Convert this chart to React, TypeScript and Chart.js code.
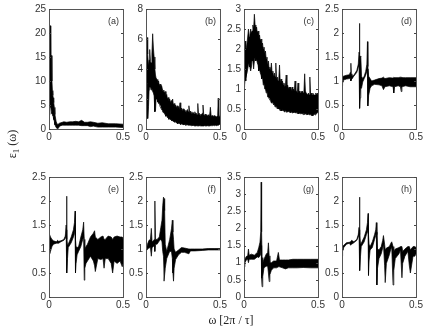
import React, { useEffect, useRef } from "react";
import { Chart, registerables } from "chart.js";

Chart.register(...registerables);

const omegaA = [0,.006,.01,.012,.017,.02,.023,.026,.029,.032,.036,.04,.048,.055,.062,.07,.08,.09,.1,.12,.14,.16,.18,.2,.22,.24,.26,.28,.3,.33,.36,.4,.45,.5];
const highA = [12,21.5,21.5,15.3,15.3,10,8,7,6.5,5.5,4.5,3,1.6,1,1,1.2,1.3,1.4,1.5,1.4,1.5,1.5,1.6,1.5,1.8,1.4,1.4,1.5,1.4,1.2,1.3,1.1,1.1,1.0];
const lowA = [3,5,5,4.5,3.5,3.2,3,2.8,2.5,2,1.6,.9,.3,.1,.1,.5,.7,.8,.8,.8,.8,.8,.8,.8,.7,.7,.7,.5,.6,.4,.4,.4,.4,.3];

const omegaB = [0,.003,.007,.01,.013,.017,.021,.025,.03,.035,
  .04,.045,.05,.055,.06,.064,.068,.075,.08,.085,
  .09,.095,.1,.105,.11,.115,.12,.125,.13,.135,
  .14,.145,.15,.155,.16,.165,.17,.175,.18,.185,
  .19,.195,.2,.205,.21,.215,.22,.225,.23,.235,
  .24,.245,.25,.255,.26,.265,.27,.275,.28,.285,
  .29,.295,.3,.305,.31,.315,.32,.325,.33,.335,
  .34,.345,.35,.355,.36,.365,.37,.375,.38,.385,
  .39,.395,.4,.405,.41,.415,.42,.425,.43,.435,
  .44,.445,.45,.455,.46,.465,.47,.475,.48,.484,
  .488,.492,.496,.5];
const highB = [4,5.5,6.1,5.2,5,4.2,4.6,5.3,4.5,4.4,
  5,6.35,5.4,4.8,4,3.6,3.4,3.3,3.1,3.2,
  2.9,3,2.8,2.9,2.7,2.5,2.6,2.4,2.5,2.2,
  2.3,2.0,2.1,1.9,2.0,1.75,1.9,1.7,2.0,1.6,
  1.7,1.5,1.6,1.4,1.55,1.35,1.5,1.3,1.75,1.3,
  1.4,1.2,1.35,1.2,1.3,1.15,1.25,1.1,1.3,1.15,
  1.55,1.1,1.2,1.05,1.15,1.0,1.1,1.0,1.15,1.0,
  1.05,.95,1.7,.95,1.05,.9,1.0,.95,1.05,1.6,
  .95,.9,1.0,.85,.95,.85,.95,.85,.9,1.45,
  .9,.85,.9,.8,.9,.8,.85,.8,.85,.8,
  2.05,.85,.8,.9];
const lowB = [3,3.2,3,2.5,.7,1.5,2.6,2.8,2.8,2.6,
  2.7,2.5,2.4,2.2,1.15,1.2,2,2,1.8,1.7,
  1.7,1.5,1.5,1.3,1.25,1.1,1.15,1.0,.95,.85,
  .9,.75,.8,.65,.7,.6,.65,.55,.55,.5,
  .5,.45,.5,.4,.42,.35,.4,.35,.38,.3,
  .35,.3,.33,.28,.3,.25,.3,.25,.28,.25,
  .27,.25,.25,.22,.25,.2,.25,.2,.22,.2,
  .22,.2,.22,.2,.22,.2,.22,.2,.2,.2,
  .2,.22,.2,.22,.2,.22,.2,.22,.2,.22,
  .22,.25,.22,.25,.22,.25,.25,.22,.25,.25,
  .25,.25,.3,.3];

const omegaC = [0,.004,.008,.012,.016,.02,.025,.03,.035,.04,
  .045,.05,.055,.06,.065,.07,.075,.08,.085,.09,
  .095,.1,.105,.11,.115,.12,.125,.13,.135,.14,
  .145,.15,.155,.16,.165,.17,.175,.18,.185,.19,
  .195,.2,.205,.21,.215,.22,.225,.23,.235,.24,
  .245,.25,.255,.26,.265,.27,.275,.28,.285,.29,
  .295,.3,.305,.31,.315,.32,.325,.33,.335,.34,
  .345,.35,.355,.36,.365,.37,.375,.38,.385,.39,
  .395,.4,.405,.41,.415,.42,.425,.43,.435,.44,
  .445,.45,.455,.46,.465,.47,.475,.48,.485,.49,
  .495,.5];
const highC = [1.5,2.0,2.2,2.05,2.0,2.0,2.3,2.5,2.3,2.35,
  2.5,2.4,2.45,2.6,2.5,2.87,2.6,2.5,2.55,2.4,
  2.45,2.3,2.35,2.2,2.25,2.1,2.15,2.0,2.05,1.9,
  1.95,1.75,1.8,1.6,1.7,1.5,1.55,1.45,1.65,1.4,
  1.45,1.3,1.4,1.3,1.65,1.25,1.3,1.2,1.25,1.6,
  1.15,1.25,1.15,1.2,1.1,1.15,1.05,1.1,1.35,1.05,
  1.1,1.0,1.05,1.0,1.05,.95,1.05,.95,1.0,.95,
  1.2,.95,.95,.9,1.15,.9,.95,.9,.95,.9,
  .95,.9,.95,1.38,.95,.9,.9,.85,.9,.85,
  1.3,.85,.9,.85,.9,.85,.85,.85,.9,.85,
  .9,.85];
const lowC = [1.05,1.1,1.25,1.2,1.35,1.35,1.5,1.6,1.65,1.55,
  1.45,1.55,1.75,1.7,1.5,1.7,1.8,1.7,1.75,1.65,
  1.6,1.45,1.5,1.4,1.35,1.25,1.3,1.1,1.15,1.0,
  1.0,.9,.95,.8,.8,.75,.75,.7,.65,.65,
  .68,.6,.62,.55,.58,.55,.5,.55,.5,.5,
  .45,.5,.45,.48,.45,.47,.42,.47,.42,.45,
  .42,.45,.42,.44,.4,.44,.4,.42,.4,.42,
  .4,.4,.42,.38,.42,.38,.4,.38,.4,.38,
  .38,.36,.4,.36,.38,.36,.38,.35,.38,.35,
  .35,.37,.33,.37,.33,.35,.38,.35,.38,.38,
  .4,.42];

const omegaD = [0,.004,.01,.03,.05,.056,.06,.063,.067,.08,.1,.11,.115,.118,.12,.123,.127,.132,.14,.15,.16,.168,.172,.175,.18,.19,.2,.22,.25,.27,.28,.29,.32,.345,.35,.355,.38,.395,.4,.405,.43,.46,.5];
const highD = [1.0,1.1,1.1,1.12,1.13,1.18,1.37,1.15,1.1,1.12,1.22,1.35,1.6,2.2,1.55,1.5,1.52,1.1,1.05,1.1,1.2,1.35,1.82,1.3,1.1,1.05,1.0,1.02,1.05,1.06,1.08,1.05,1.07,1.06,1.08,1.07,1.07,1.08,1.08,1.07,1.07,1.07,1.07];
const lowD = [.9,.95,1.02,1.04,1.05,1.05,1.0,1.03,1.03,1.1,1.18,1.28,1.35,1.3,.43,.65,.85,.85,.98,1.05,1.12,1.2,1.25,.48,.7,.85,.9,.93,.92,.9,.82,.88,.9,.88,.75,.88,.9,.88,.78,.88,.9,.88,.88];

const omegaE = [0,.004,.01,.02,.03,.05,.058,.065,.08,.1,.11,.116,.119,.121,.125,.13,.15,.165,.172,.176,.179,.183,.19,.2,.215,.228,.234,.238,.242,.25,.26,.28,.3,.308,.313,.33,.35,.365,.372,.38,.4,.42,.43,.44,.46,.48,.495,.5];
const highE = [1.1,1.3,1.25,1.2,1.17,1.15,1.18,1.16,1.17,1.2,1.27,1.5,2.1,1.2,1.08,1.1,1.25,1.4,1.55,1.79,1.2,1.05,1.03,1.05,1.25,1.4,1.56,1.2,1.0,1.05,1.1,1.25,1.33,1.38,1.25,1.2,1.25,1.27,1.2,1.2,1.27,1.25,1.2,1.25,1.27,1.25,1.25,1.22];
const lowE = [.85,.85,.95,1.05,1.1,1.12,1.12,1.12,1.15,1.18,1.22,1.3,1.4,.5,.8,1.03,1.13,1.25,1.32,1.4,.5,.7,.88,.95,1.05,1.2,1.25,.35,.6,.7,.75,.85,.75,.65,.53,.8,.78,.8,.6,.8,.8,.7,.5,.75,.7,.75,.63,.7];

const omegaF = [0,.01,.02,.03,.036,.041,.05,.056,.06,.064,.075,.09,.1,.108,.113,.118,.122,.126,.13,.14,.16,.172,.178,.182,.186,.19,.2,.22,.24,.26,.29,.3,.33,.38,.42,.46,.5];
const highF = [.98,1.1,1.18,1.2,1.43,1.15,1.17,1.2,2.0,1.2,1.2,1.25,1.45,1.6,1.9,2.08,2.05,1.8,1.1,.95,1.2,1.42,1.6,1.35,1.2,1.0,.93,.98,1.03,1.02,1.0,1.0,1.0,1.0,1.01,1.01,1.01];
const lowF = [.95,1.0,1.02,1.03,.85,1.03,1.05,1.08,.95,1.1,1.1,1.17,1.2,1.15,.95,.85,.33,.33,.6,.8,.95,.95,.8,.5,.33,.6,.78,.88,.93,.93,.9,.96,.96,.97,.98,.98,.98];

const omegaG = [0,.006,.015,.025,.03,.035,.05,.07,.09,.1,.108,.113,.116,.119,.122,.127,.135,.15,.16,.165,.17,.175,.185,.2,.22,.232,.24,.26,.28,.3,.33,.36,.4,.45,.5];
const highG = [1.0,1.1,1.18,1.2,1.4,1.22,1.25,1.22,1.3,1.45,1.6,1.9,3.35,1.9,1.15,1.0,1.1,1.25,1.3,1.58,1.2,1.0,1.0,1.05,1.05,1.3,1.08,1.08,1.08,1.08,1.1,1.1,1.1,1.1,1.1];
const lowG = [.88,1.0,1.08,1.1,1.0,1.1,1.1,1.1,1.17,1.15,1.2,1.25,1.5,.55,.3,.6,.85,.9,.9,.7,.45,.65,.78,.85,.85,.88,.88,.85,.82,.85,.85,.85,.86,.85,.85];

const omegaH = [0,.004,.012,.03,.05,.058,.065,.08,.1,.11,.115,.118,.121,.125,.13,.15,.165,.172,.176,.179,.183,.19,.205,.22,.228,.232,.236,.24,.25,.265,.275,.28,.288,.292,.3,.32,.33,.336,.345,.35,.36,.385,.395,.405,.41,.425,.445,.455,.462,.48,.492,.5];
const highH = [1.0,1.05,1.08,1.13,1.14,1.15,1.18,1.15,1.2,1.3,1.45,2.08,1.3,1.1,1.12,1.25,1.4,1.55,1.74,1.3,1.1,1.05,1.15,1.3,1.4,1.55,1.3,1.0,.98,1.05,1.18,1.28,1.1,.98,1.02,1.05,1.12,1.15,1.05,.95,1.0,1.03,1.05,1.05,.95,1.0,1.05,1.05,.98,1.05,1.05,1.03];
const lowH = [.85,.95,1.03,1.1,1.12,1.08,1.1,1.13,1.18,1.25,1.32,1.4,.55,.85,1.05,1.15,1.3,1.35,1.4,.45,.75,.98,1.03,1.2,1.28,1.35,.25,.6,.8,.9,1.02,1.1,.65,.3,.7,.88,1.0,1.03,.25,.55,.8,.9,.98,.4,.7,.85,.95,.65,.5,.85,.85,.9];

const panels = [
  { tag: "(a)", omega: omegaA, high: highA, low: lowA, yMax: 25, yStep: 5, left: 49, top: 7 },
  { tag: "(b)", omega: omegaB, high: highB, low: lowB, yMax: 8, yStep: 2, left: 146, top: 7 },
  { tag: "(c)", omega: omegaC, high: highC, low: lowC, yMax: 3, yStep: 0.5, left: 244, top: 7 },
  { tag: "(d)", omega: omegaD, high: highD, low: lowD, yMax: 2.5, yStep: 0.5, left: 342, top: 7 },
  { tag: "(e)", omega: omegaE, high: highE, low: lowE, yMax: 2.5, yStep: 0.5, left: 49, top: 175 },
  { tag: "(f)", omega: omegaF, high: highF, low: lowF, yMax: 2.5, yStep: 0.5, left: 146, top: 175 },
  { tag: "(g)", omega: omegaG, high: highG, low: lowG, yMax: 3.5, yStep: 0.5, left: 244, top: 175 },
  { tag: "(h)", omega: omegaH, high: highH, low: lowH, yMax: 2.5, yStep: 0.5, left: 342, top: 175 },
];

const PW = 74, PH = 122, PAD_L = 34, PAD_T = 7, PAD_R = 14, PAD_B = 17;
const INK = "#000";
const TEXT = "#333";
const FONT = "'Liberation Sans', sans-serif";

function Panel({ p }: { p: (typeof panels)[number] }) {
  const ref = useRef<HTMLCanvasElement>(null);
  useEffect(() => {
    const frame = {
      id: "frame",
      afterDatasetsDraw(c: any) {
        const { ctx, chartArea: a, scales } = c;
        ctx.save();
        ctx.strokeStyle = "#555";
        ctx.lineWidth = 1;
        ctx.strokeRect(a.left + 0.5, a.top + 0.5, a.right - a.left, a.bottom - a.top);
        ctx.strokeStyle = "#444";
        ctx.beginPath();
        for (const t of scales.y.ticks) {
          const y = Math.round(scales.y.getPixelForValue(t.value)) + 0.5;
          ctx.moveTo(a.left, y); ctx.lineTo(a.left + 2, y);
          ctx.moveTo(a.right, y); ctx.lineTo(a.right - 2, y);
        }
        ctx.stroke();
        ctx.fillStyle = TEXT;
        ctx.font = `9px ${FONT}`;
        ctx.textAlign = "right";
        ctx.textBaseline = "middle";
        ctx.fillText(p.tag, a.right - 4, a.top + 13);
        ctx.restore();
      },
    };
    const chart = new Chart(ref.current!, {
      type: "line",
      data: {
        datasets: [
          { data: p.omega.map((x, i) => ({ x, y: p.high[i] })), fill: "+1", backgroundColor: INK, borderColor: INK, borderWidth: 0.7, pointRadius: 0, tension: 0 },
          { data: p.omega.map((x, i) => ({ x, y: p.low[i] })), fill: false, borderColor: INK, borderWidth: 0.7, pointRadius: 0, tension: 0 },
        ],
      },
      options: {
        responsive: false,
        animation: false,
        events: [],
        layout: { padding: { top: PAD_T, right: PAD_R, left: 0, bottom: 0 } },
        plugins: { legend: { display: false }, tooltip: { enabled: false } },
        scales: {
          x: {
            type: "linear", min: 0, max: 0.5,
            grid: { display: false, drawTicks: false }, border: { display: false },
            afterFit: (s: any) => { s.height = PAD_B; },
            ticks: { stepSize: 0.5, autoSkip: false, maxRotation: 0, padding: 2, color: TEXT, font: { family: FONT, size: 10 }, callback: (v: any) => String(v) },
          },
          y: {
            type: "linear", min: 0, max: p.yMax,
            grid: { display: false, drawTicks: false }, border: { display: false },
            afterFit: (s: any) => { s.width = PAD_L; },
            ticks: { stepSize: p.yStep, autoSkip: false, padding: 3, color: TEXT, font: { family: FONT, size: 10 }, callback: (v: any) => String(v) },
          },
        },
      } as any,
      plugins: [frame],
    });
    return () => chart.destroy();
  }, [p]);
  return (
    <canvas
      ref={ref}
      width={PAD_L + PW + PAD_R}
      height={PAD_T + PH + PAD_B}
      style={{ position: "absolute", left: p.left - PAD_L, top: p.top - PAD_T, width: PAD_L + PW + PAD_R, height: PAD_T + PH + PAD_B }}
    />
  );
}

export default function App() {
  return (
    <div style={{ position: "absolute", left: 0, top: 0, width: 424, height: 327, background: "#fff", overflow: "hidden" }}>
      {panels.map((p) => <Panel key={p.tag} p={p} />)}
      <div style={{ position: "absolute", left: 186, top: 313, width: 90, textAlign: "center", fontFamily: "'Liberation Serif', serif", fontSize: 12, color: "#222", whiteSpace: "nowrap", lineHeight: "14px" }}>
        ω [2π / τ]
      </div>
      <div style={{ position: "absolute", left: -28, top: 137, width: 80, textAlign: "center", fontFamily: "'Liberation Serif', serif", fontSize: 12, color: "#222", whiteSpace: "nowrap", lineHeight: "14px", transform: "rotate(-90deg)" }}>
        ε<sub style={{ fontSize: 9, lineHeight: 0 }}>1</sub> (ω)
      </div>
    </div>
  );
}
